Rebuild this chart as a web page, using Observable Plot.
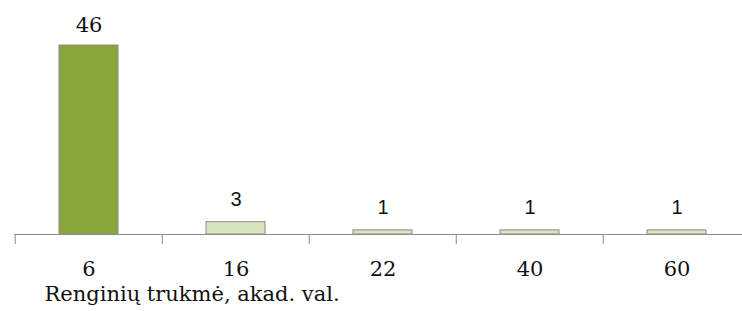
<!DOCTYPE html>
<html>
<head>
<meta charset="utf-8">
<script src="https://cdn.jsdelivr.net/npm/d3@7"></script>
<script src="https://cdn.jsdelivr.net/npm/@observablehq/plot@0.6"></script>
<style>
  html, body { margin: 0; padding: 0; background: #fff; }
</style>
</head>
<body>
<div id="chart"></div>
<script>
const categories = ["6", "16", "22", "40", "60"];
const values = [46, 3, 1, 1, 1];
const tickLabels = ["6", "16", "22", "40", "60"];
const axisTitle = "Renginių trukmė, akad. val.";

const data = categories.map((c, i) => ({cat: c, value: values[i], label: tickLabels[i], first: i === 0}));
const left = 14, right = 751.5;
const step = (right - left) / categories.length;

const chart = Plot.plot({
  width: 742,
  height: 311,
  marginTop: 0, marginBottom: 0, marginLeft: 14, marginRight: 0,
  x: {domain: categories, range: [left, right], paddingInner: 0.6, paddingOuter: 0.3, align: 0.5, axis: null},
  y: {domain: [0, 46], range: [234, 45], axis: null},
  style: {background: "#fff"},
  marks: [
    Plot.barY(data, {x: "cat", y: "value", fill: d => d.first ? "#89A63A" : "#D7E4BD", stroke: "#8c8c8c", strokeWidth: 1}),
    Plot.ruleY([0], {stroke: "#8c8c8c", strokeWidth: 1}),
    Plot.ruleX(categories, {x: d => d, dx: -step / 2, y1: 0, y2: -2.45, stroke: "#8c8c8c", strokeWidth: 1}),
    Plot.text(data.filter(d => d.first), {x: "cat", y: "value", text: d => String(d.value), dy: -20.7, fontSize: 21, fontFamily: "DejaVu Serif", fill: "#111"}),
    Plot.text(data.filter(d => !d.first), {x: "cat", y: "value", text: d => String(d.value), dy: -23, fontSize: 20, fontFamily: "Liberation Sans", fill: "#111"}),
    Plot.text(data, {x: "cat", y: 0, text: "label", dy: 35, fontSize: 21, fontFamily: "DejaVu Serif", fill: "#111"}),
    Plot.text([axisTitle], {frameAnchor: "bottom-left", dx: 30, dy: -17.5, lineAnchor: "middle", fontSize: 21, fontFamily: "DejaVu Serif", fill: "#111"})
  ]
});
document.getElementById("chart").appendChild(chart);
</script>
</body>
</html>
